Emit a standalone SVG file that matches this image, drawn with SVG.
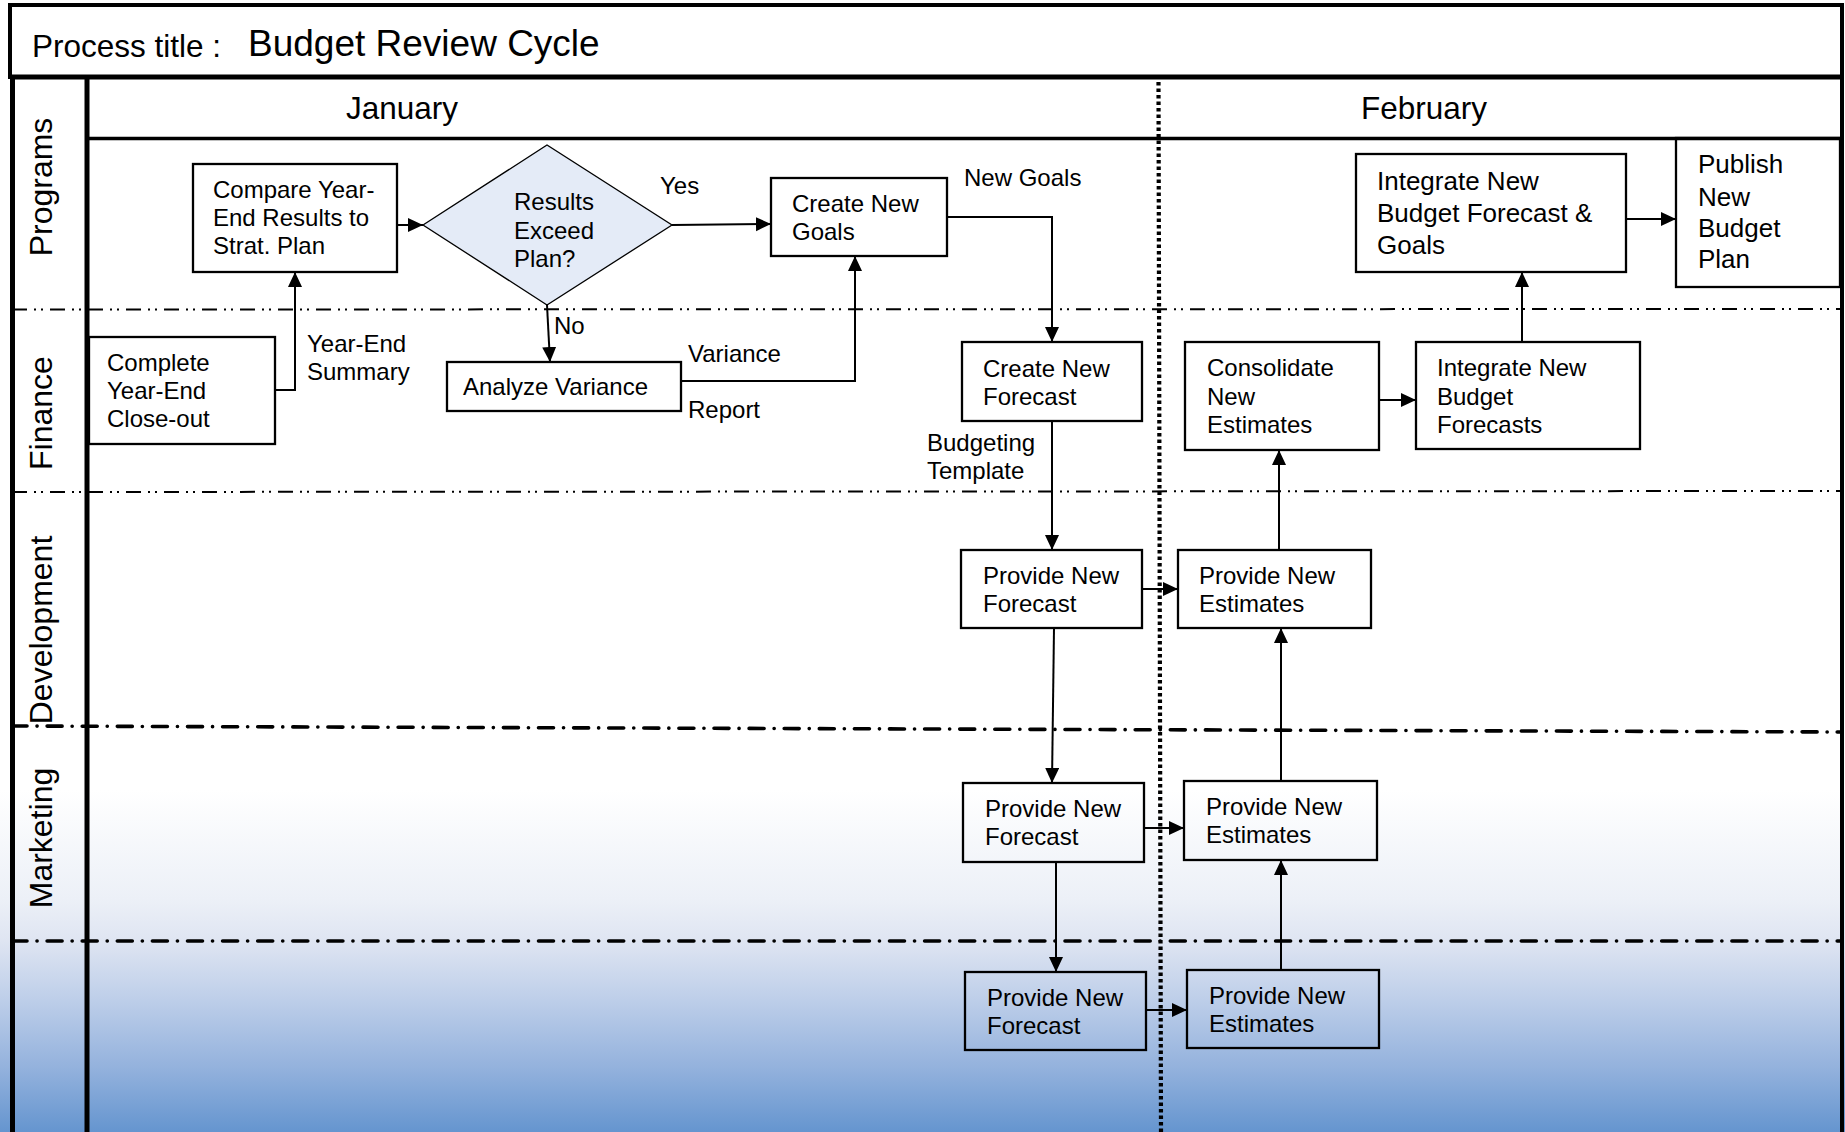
<svg xmlns="http://www.w3.org/2000/svg" width="1845" height="1132" viewBox="0 0 1845 1132">
<defs>
<linearGradient id="bg" gradientUnits="userSpaceOnUse" x1="0" y1="790" x2="0" y2="1132">
<stop offset="0" stop-color="#ffffff"/>
<stop offset="0.32" stop-color="#ecf0f7"/>
<stop offset="0.44" stop-color="#dfe5f2"/>
<stop offset="0.615" stop-color="#bdcee9"/>
<stop offset="0.81" stop-color="#94b2dd"/>
<stop offset="1" stop-color="#6595cf"/>
</linearGradient>
<marker id="ah" markerUnits="userSpaceOnUse" markerWidth="16" markerHeight="15" refX="15" refY="7" orient="auto">
<path d="M0,0 L15,7 L0,14 z" fill="#000"/>
</marker>
</defs>
<style>
text{font-family:"Liberation Sans",Arial,sans-serif;fill:#000}
.n{font-size:24px}
.b{font-size:26px}
.lbl{font-size:24px}
.lane{font-size:32px;text-anchor:middle}
.box{fill:none;stroke:#000;stroke-width:2.3}
.c{fill:none;stroke:#000;stroke-width:2;marker-end:url(#ah)}
.thin{fill:none;stroke:#000;stroke-width:2;stroke-dasharray:15 7 2 5 2 7}
.thick{fill:none;stroke:#000;stroke-width:3.6;stroke-linecap:round;stroke-dasharray:15 10 0.1 10}
</style>
<rect x="0" y="0" width="1845" height="1132" fill="#fff"/>
<rect x="0" y="790" width="1845" height="342" fill="url(#bg)"/>

<g id="frame">
<rect x="10" y="5" width="1832" height="72" fill="none" stroke="#000" stroke-width="4"/>
<line x1="10" y1="77" x2="1842" y2="77" stroke="#000" stroke-width="5"/>
<line x1="12.5" y1="77" x2="12.5" y2="1132" stroke="#000" stroke-width="5"/>
<line x1="87" y1="77" x2="87" y2="1132" stroke="#000" stroke-width="5"/>
<line x1="1842" y1="5" x2="1842" y2="1132" stroke="#000" stroke-width="4"/>
<line x1="87" y1="138.5" x2="1842" y2="138.5" stroke="#000" stroke-width="3.5"/>
<line x1="1158.5" y1="82" x2="1161" y2="1132" stroke="#000" stroke-width="4.2" stroke-dasharray="3.5 3"/>
<line class="thin" x1="12" y1="309.5" x2="1842" y2="309"/>
<line class="thin" x1="12" y1="492" x2="1842" y2="491"/>
<line class="thick" x1="12" y1="726" x2="1842" y2="732"/>
<line class="thick" x1="12" y1="941" x2="1842" y2="941"/>
<text x="32" y="57" style="font-size:31.5px">Process title :</text>
<text x="248" y="56" style="font-size:37px">Budget Review Cycle</text>
<text x="402" y="119" style="font-size:31.5px" text-anchor="middle">January</text>
<text x="1424" y="119" style="font-size:31.5px" text-anchor="middle">February</text>
<text class="lane" transform="translate(52,187) rotate(-90)">Programs</text>
<text class="lane" transform="translate(52,413) rotate(-90)">Finance</text>
<text class="lane" transform="translate(52,630) rotate(-90)">Development</text>
<text class="lane" transform="translate(52,838) rotate(-90)">Marketing</text>
</g>

<g id="connectors">
<path class="c" d="M275,390 H295 V272"/>
<path class="c" d="M397,225 H423"/>
<path class="c" d="M672,225 L771,224"/>
<path class="c" d="M547,305 L550,362"/>
<path class="c" d="M681,381 H855 V256"/>
<path class="c" d="M947,217 H1052 V342"/>
<path class="c" d="M1052,421 V550"/>
<path class="c" d="M1142,589 H1178"/>
<path class="c" d="M1054,628 L1052,783"/>
<path class="c" d="M1144,828 H1184"/>
<path class="c" d="M1056,862 V972"/>
<path class="c" d="M1146,1010 H1187"/>
<path class="c" d="M1281,970 V860"/>
<path class="c" d="M1281,781 V628"/>
<path class="c" d="M1279,550 V450"/>
<path class="c" d="M1379,400 H1416"/>
<path class="c" d="M1522,342 V272"/>
<path class="c" d="M1626,219 H1676"/>
<text class="lbl" x="660" y="194">Yes</text>
<text class="lbl" x="554" y="334">No</text>
<text class="lbl" x="307" y="352">Year-End</text>
<text class="lbl" x="307" y="380">Summary</text>
<text class="lbl" x="688" y="362">Variance</text>
<text class="lbl" x="688" y="418">Report</text>
<text class="lbl" x="964" y="186">New Goals</text>
<text class="lbl" x="927" y="451">Budgeting</text>
<text class="lbl" x="927" y="479">Template</text>
</g>

<g id="compare">
<rect class="box" x="193" y="164" width="204" height="108"/>
<text class="n" x="213" y="198">Compare Year-</text>
<text class="n" x="213" y="226">End Results to</text>
<text class="n" x="213" y="254">Strat. Plan</text>
</g>
<g id="decision">
<polygon points="423,225 547,145 672,225 547,305" fill="#e4ebf7" stroke="#000" stroke-width="1.3"/>
<text class="n" x="514" y="210">Results</text>
<text class="n" x="514" y="239">Exceed</text>
<text class="n" x="514" y="267">Plan?</text>
</g>
<g id="create-goals">
<rect class="box" x="771" y="178" width="176" height="78"/>
<text class="n" x="792" y="212">Create New</text>
<text class="n" x="792" y="240">Goals</text>
</g>
<g id="complete">
<rect class="box" x="89" y="337" width="186" height="107"/>
<text class="n" x="107" y="371">Complete</text>
<text class="n" x="107" y="399">Year-End</text>
<text class="n" x="107" y="427">Close-out</text>
</g>
<g id="analyze">
<rect class="box" x="447" y="362" width="234" height="49"/>
<text class="n" x="463" y="395">Analyze Variance</text>
</g>
<g id="create-forecast">
<rect class="box" x="962" y="342" width="180" height="79"/>
<text class="n" x="983" y="377">Create New</text>
<text class="n" x="983" y="405">Forecast</text>
</g>
<g id="consolidate">
<rect class="box" x="1185" y="342" width="194" height="108"/>
<text class="n" x="1207" y="376">Consolidate</text>
<text class="n" x="1207" y="405">New</text>
<text class="n" x="1207" y="433">Estimates</text>
</g>
<g id="integrate-forecasts">
<rect class="box" x="1416" y="342" width="224" height="107"/>
<text class="n" x="1437" y="376">Integrate New</text>
<text class="n" x="1437" y="405">Budget</text>
<text class="n" x="1437" y="433">Forecasts</text>
</g>
<g id="integrate-goals">
<rect class="box" x="1356" y="154" width="270" height="118"/>
<text class="b" x="1377" y="190">Integrate New</text>
<text class="b" x="1377" y="222">Budget Forecast &amp;</text>
<text class="b" x="1377" y="254">Goals</text>
</g>
<g id="publish">
<rect class="box" x="1676" y="138" width="164" height="149" stroke-width="2.8"/>
<text class="b" x="1698" y="173">Publish</text>
<text class="b" x="1698" y="206">New</text>
<text class="b" x="1698" y="237">Budget</text>
<text class="b" x="1698" y="268">Plan</text>
</g>
<g id="dev-forecast">
<rect class="box" x="961" y="550" width="181" height="78"/>
<text class="n" x="983" y="584">Provide New</text>
<text class="n" x="983" y="612">Forecast</text>
</g>
<g id="dev-estimates">
<rect class="box" x="1178" y="550" width="193" height="78"/>
<text class="n" x="1199" y="584">Provide New</text>
<text class="n" x="1199" y="612">Estimates</text>
</g>
<g id="mkt-forecast">
<rect class="box" x="963" y="783" width="181" height="79"/>
<text class="n" x="985" y="817">Provide New</text>
<text class="n" x="985" y="845">Forecast</text>
</g>
<g id="mkt-estimates">
<rect class="box" x="1184" y="781" width="193" height="79"/>
<text class="n" x="1206" y="815">Provide New</text>
<text class="n" x="1206" y="843">Estimates</text>
</g>
<g id="bottom-forecast">
<rect class="box" x="965" y="972" width="181" height="78"/>
<text class="n" x="987" y="1006">Provide New</text>
<text class="n" x="987" y="1034">Forecast</text>
</g>
<g id="bottom-estimates">
<rect class="box" x="1187" y="970" width="192" height="78"/>
<text class="n" x="1209" y="1004">Provide New</text>
<text class="n" x="1209" y="1032">Estimates</text>
</g>
</svg>
